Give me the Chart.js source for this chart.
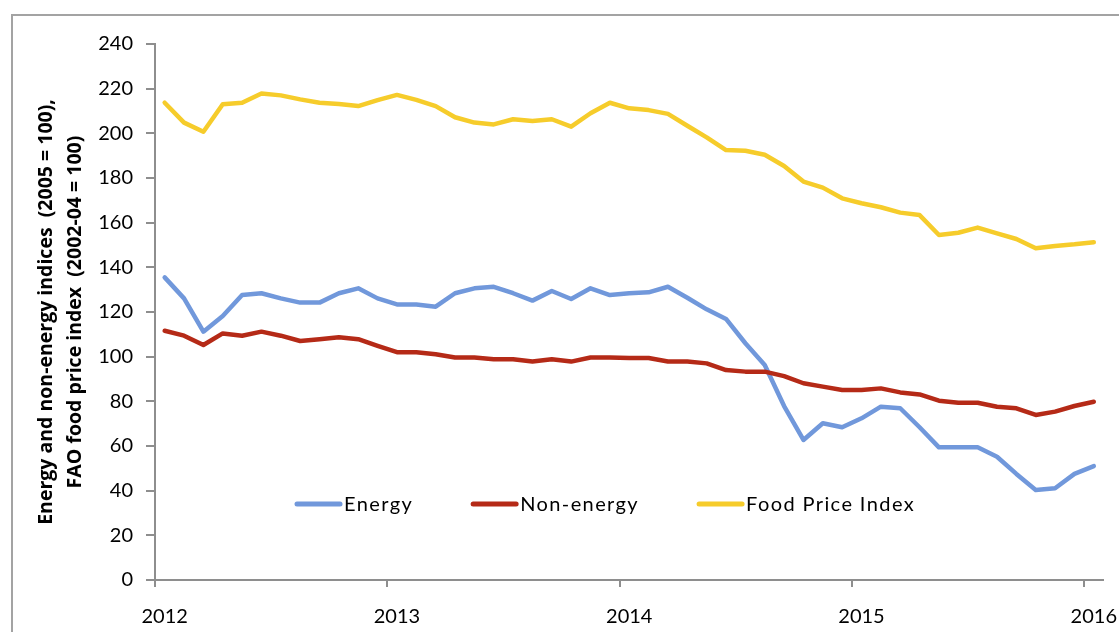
<!DOCTYPE html>
<html><head><meta charset="utf-8">
<script src="https://cdn.jsdelivr.net/npm/chart.js@4/dist/chart.umd.min.js"></script>
<style>
html,body{margin:0;padding:0;background:#fff;}
#wrap{position:relative;width:1119px;height:632px;overflow:hidden;background:#fff;}
#frame{position:absolute;left:11px;top:14px;width:1200px;height:700px;border:2px solid #a3a3a3;box-sizing:border-box;}
canvas{position:absolute;left:0;top:0;}
</style></head><body>
<div id="wrap"><div id="frame"></div><canvas id="c" width="1119" height="632"></canvas></div>
<script>
const months = [
 '2012-01','2012-02','2012-03','2012-04','2012-05','2012-06','2012-07','2012-08','2012-09','2012-10','2012-11','2012-12',
 '2013-01','2013-02','2013-03','2013-04','2013-05','2013-06','2013-07','2013-08','2013-09','2013-10','2013-11','2013-12',
 '2014-01','2014-02','2014-03','2014-04','2014-05','2014-06','2014-07','2014-08','2014-09','2014-10','2014-11','2014-12',
 '2015-01','2015-02','2015-03','2015-04','2015-05','2015-06','2015-07','2015-08','2015-09','2015-10','2015-11','2015-12',
 '2016-01'];
const yearLabels = ['2012','2013','2014','2015','2016'];
const yTicks = [0,20,40,60,80,100,120,140,160,180,200,220,240];

const energy = [135.5,126.1,111.2,118.2,127.6,128.4,126.1,124.2,124.2,128.4,130.6,126.1,
 123.4,123.4,122.4,128.4,130.6,131.3,128.4,125.1,129.4,125.8,130.6,127.6,
 128.4,128.8,131.3,126.4,121.2,116.9,106.0,96.3,77.9,62.7,70.2,68.4,
 72.4,77.6,76.9,68.4,59.4,59.4,59.4,55.2,47.5,40.3,41.1,47.5,
 51.0];
const nonEnergy = [111.6,109.4,105.2,110.4,109.4,111.2,109.4,107.0,107.8,108.7,107.8,104.8,
 102.0,102.0,101.1,99.6,99.6,98.8,98.8,97.8,98.8,97.8,99.6,99.6,
 99.4,99.4,97.8,97.8,97.0,94.0,93.3,93.3,91.3,88.1,86.6,85.1,
 85.1,85.8,84.0,83.1,80.3,79.4,79.4,77.6,76.9,73.9,75.4,77.9,
 79.8];
const foodPrice = [213.7,204.8,200.7,213.0,213.7,217.8,217.0,215.2,213.7,213.1,212.2,214.9,
 217.2,215.0,212.2,207.2,204.8,204.0,206.3,205.5,206.3,203.0,209.0,213.7,
 211.2,210.4,208.7,203.4,198.2,192.5,192.2,190.4,185.4,178.4,175.7,170.9,
 168.7,166.9,164.5,163.4,154.5,155.5,157.8,155.2,152.7,148.5,149.6,150.3,
 151.2];

const seriesNames = ['Energy','Non-energy','Food Price Index'];
const seriesColors = ['#7198DB','#B52A17','#F6CC2B'];
const axisColor = '#8e8e8e';
const FONT = 'Lato, "Open Sans", sans-serif';
const TITLE_FONT = '"Open Sans", Lato, sans-serif';

const inlineLegend = {
  id:'inlineLegend',
  afterDatasetsDraw(chart){
    const ctx = chart.ctx, a = chart.chartArea;
    ctx.save();
    ctx.font = '20px ' + FONT;
    ctx.letterSpacing = '1.4px';
    let x = 295;
    const y = a.top + 460;
    chart.data.datasets.forEach(ds => {
      ctx.strokeStyle = ds.borderColor; ctx.lineWidth = 5; ctx.lineCap = 'round';
      ctx.beginPath(); ctx.moveTo(x + 2, y); ctx.lineTo(x + 45, y); ctx.stroke();
      x += 49;
      ctx.fillStyle = '#000'; ctx.textBaseline = 'middle'; ctx.textAlign = 'left';
      ctx.fillText(ds.label, x, y + 1);
      x += ctx.measureText(ds.label).width + 58;
    });
    ctx.restore();
  }
};

const datasets = [energy, nonEnergy, foodPrice].map((d, i) => ({
  label: seriesNames[i], data: d, borderColor: seriesColors[i], backgroundColor: seriesColors[i],
  borderWidth: 4.5, pointRadius: 0, tension: 0, fill: false,
  borderJoinStyle: 'round', borderCapStyle: 'round', order: 2 - i
}));

new Chart(document.getElementById('c'), {
  type: 'line',
  data: { labels: months, datasets },
  options: {
    responsive: false, animation: false,
    layout: { padding: { left: 0, right: 0, top: 44, bottom: 0 } },
    plugins: { legend: { display: false }, tooltip: { enabled: false } },
    scales: {
      x: {
        type: 'category', offset: true,
        grid: { offset: true, drawOnChartArea: false, drawTicks: true, tickLength: 7, lineWidth: 2,
          color: c => (c.index % 12 === 0 ? axisColor : 'rgba(0,0,0,0)') },
        border: { display: true, color: axisColor, width: 2 },
        ticks: { autoSkip: false, maxRotation: 0, minRotation: 0, padding: 2, color: '#000',
          font: { family: FONT, size: 20, lineHeight: 2.8 },
          callback: (v, i) => (i % 12 === 0 ? yearLabels[i / 12] : '') },
        afterFit: s => { s.height = 52; }
      },
      y: {
        min: 0, max: 240,
        afterBuildTicks: s => { s.ticks = yTicks.map(v => ({ value: v })); },
        grid: { drawOnChartArea: false, drawTicks: true, tickLength: 9, lineWidth: 2, color: axisColor },
        border: { display: true, color: axisColor, width: 2 },
        ticks: { padding: 13, color: '#000', font: { family: FONT, size: 20 } },
        title: { display: true, text: ['Energy and non-energy indices  (2005 = 100),', 'FAO food price index  (2002-04 = 100)'],
          color: '#000', font: { family: TITLE_FONT, size: 19.5, weight: 'bold', lineHeight: 1.48 },
          padding: { top: 32.5, bottom: 0 } },
        afterFit: s => { s.width = 155; }
      }
    }
  },
  plugins: [inlineLegend]
});
</script>
</body></html>
